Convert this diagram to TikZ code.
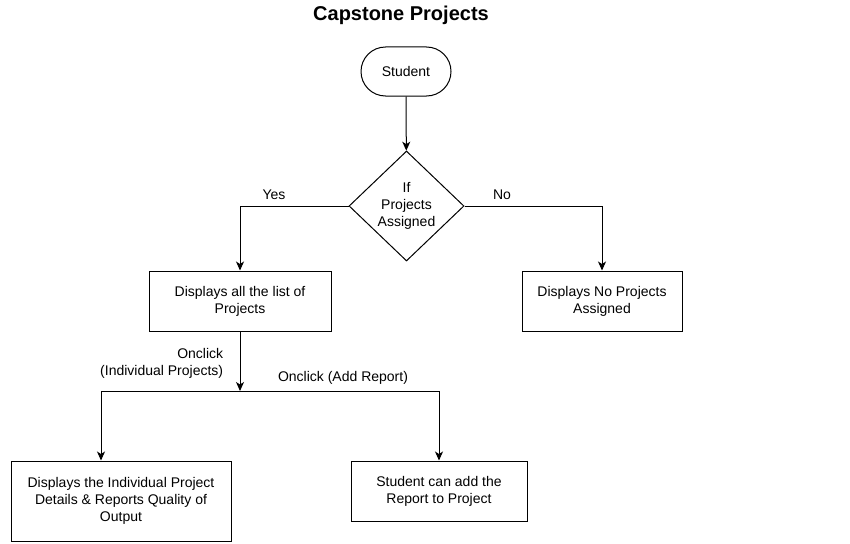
\documentclass[tikz,border=0pt]{standalone}
\usepackage{fontspec}
\setmainfont{Liberation Sans}
\usepackage{tikz}
\usetikzlibrary{shapes.geometric,arrows.meta}

\begin{document}
\begin{tikzpicture}[x=1pt, y=-1pt, >={Stealth[length=9pt,width=8pt,inset=2.5pt]}, line width=1pt,
  every node/.style={font=\fontsize{14}{17}\selectfont, align=center},
  start/.style={draw, rounded corners=24.5pt, minimum width=90pt, minimum height=49pt},
  decision/.style={draw, diamond, inner sep=0pt, minimum width=115pt, minimum height=110pt},
  box/.style={draw, minimum height=60pt}]

\useasboundingbox (0,0) rectangle (850,543);

\node [font=\fontsize{20}{24}\selectfont\bfseries] (title) at (401,15) {Capstone Projects};

\node [start] (student) at (406,71.5) {Student};
\node [decision] (check) at (406.5,206) {If\\Projects\\Assigned};
\node [box, minimum width=182pt] (list) at (240,301) {Displays all the list of\\Projects};
\node [box, minimum width=160pt] (noproj) at (602,301) {Displays No Projects\\Assigned};
\node [box, minimum width=220pt, minimum height=80pt] (detail) at (121,501) {Displays the Individual Project\\Details \& Reports Quality of\\Output};
\node [box, minimum width=176pt] (addrep) at (439,491) {Student can add the\\Report to Project};

\coordinate (split) at (240,391);

\draw [->] (student) -- (check);
\draw [->] (check.west) -| (list);
\draw [->] (check.east) -| (noproj);
\draw [->] (list) -- (split);
\draw [->] (split) -| ([xshift=-20pt]detail.north);
\draw [->] (split) -| (addrep);

% branch labels
\node (yes) at (274,195) {Yes};
\node (no) at (502,195) {No};
\node [align=right, anchor=east] (indiv) at (227,363) {Onclick\\(Individual Projects)};
\node (addlbl) at (343,378) {Onclick (Add Report)};

\end{tikzpicture}
\end{document}
